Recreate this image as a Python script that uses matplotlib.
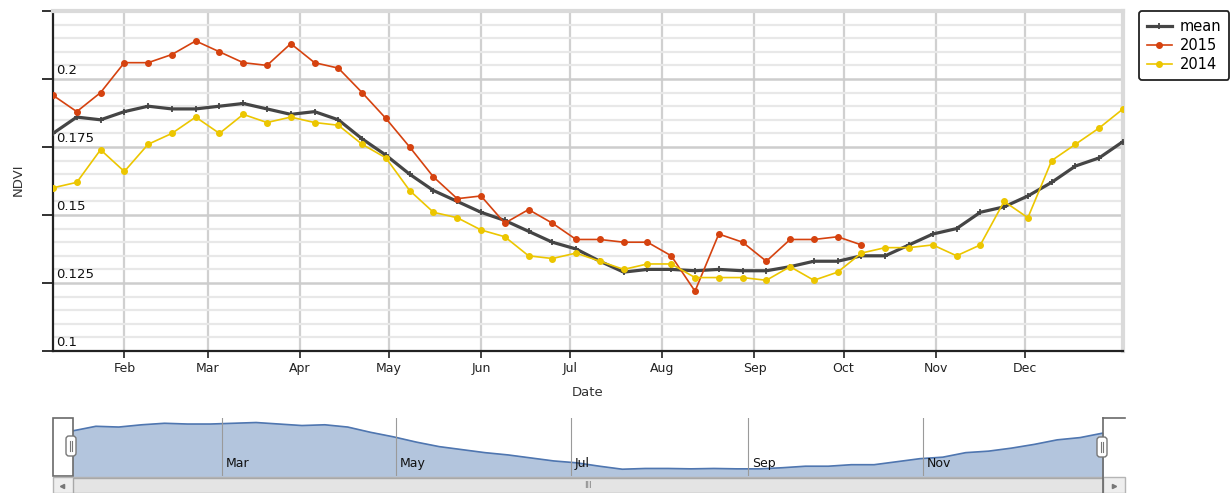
import numpy as np
import pandas as pd
import matplotlib
matplotlib.use("Agg")
import matplotlib.pyplot as plt
from matplotlib.patches import Rectangle, FancyBboxPatch

W, H = 1231, 493

# --- data: 8-day NDVI composites ---
dates = pd.date_range("2015-01-08", periods=46, freq="8D")

ndvi_mean = [0.180, 0.186, 0.185, 0.188, 0.190, 0.189, 0.189, 0.190, 0.191, 0.189,
             0.187, 0.188, 0.185, 0.178, 0.172, 0.165, 0.159, 0.155, 0.151, 0.148,
             0.144, 0.140, 0.1375, 0.133, 0.129, 0.130, 0.130, 0.1295, 0.130, 0.1295,
             0.1295, 0.131, 0.133, 0.133, 0.135, 0.135, 0.139, 0.143, 0.145, 0.151,
             0.153, 0.157, 0.162, 0.168, 0.171, 0.177]

ndvi_2015 = [0.194, 0.188, 0.195, 0.206, 0.206, 0.209, 0.214, 0.210, 0.206, 0.205,
             0.213, 0.206, 0.204, 0.195, 0.1855, 0.175, 0.164, 0.156, 0.157, 0.147,
             0.152, 0.147, 0.141, 0.141, 0.140, 0.140, 0.135, 0.122, 0.143, 0.140,
             0.133, 0.141, 0.141, 0.142, 0.139]

ndvi_2014 = [0.160, 0.162, 0.174, 0.166, 0.176, 0.180, 0.186, 0.180, 0.187, 0.184,
             0.186, 0.184, 0.183, 0.176, 0.171, 0.159, 0.151, 0.149, 0.1445, 0.142,
             0.135, 0.134, 0.136, 0.133, 0.130, 0.132, 0.132, 0.127, 0.127, 0.127,
             0.126, 0.131, 0.126, 0.129, 0.136, 0.138, 0.138, 0.139, 0.135, 0.139,
             0.155, 0.149, 0.170, 0.176, 0.182, 0.189]

month_ticks = pd.date_range("2015-02-01", "2015-12-01", freq="MS")
month_labels = ["Feb", "Mar", "Apr", "May", "Jun", "Jul", "Aug", "Sep", "Oct", "Nov", "Dec"]
overview_ticks = pd.to_datetime(["2015-03-01", "2015-05-01", "2015-07-01", "2015-09-01", "2015-11-01"])
overview_labels = ["Mar", "May", "Jul", "Sep", "Nov"]
y_ticks = [0.1, 0.125, 0.15, 0.175, 0.2, 0.225]
y_labels = ["0.1", "0.125", "0.15", "0.175", "0.2", ""]

MEAN_C = "#454545"
C2015 = "#d5420f"
C2014 = "#ecc600"


def fx(px):
    return px / W


def fy(py):
    return 1 - py / H


fig = plt.figure(figsize=(W / 100, H / 100), dpi=100)
fig.patch.set_facecolor("white")

# --- main plot ---
ax = fig.add_axes([fx(53), fy(351), fx(1123) - fx(53), fy(11) - fy(351)])
ax.plot(dates, ndvi_mean, color=MEAN_C, lw=2.3, marker="+", ms=5, mew=1.3,
        label="mean", zorder=3)
ax.plot(dates[:len(ndvi_2015)], ndvi_2015, color=C2015, lw=1.2, marker="o", ms=4,
        label="2015", zorder=4)
ax.plot(dates, ndvi_2014, color=C2014, lw=1.2, marker="o", ms=4,
        label="2014", zorder=5)

ax.set_xlim(dates[0], dates[-1])
ax.set_ylim(0.1, 0.225)

ax.set_xticks(month_ticks)
ax.set_xticklabels(month_labels, fontsize=9, color="#222")
ax.set_yticks(y_ticks)
ax.set_yticklabels([])
ax.set_yticks(np.arange(0.1, 0.2251, 0.005), minor=True)
ax.tick_params(axis="y", which="major", direction="out", length=8, width=1.3, color="#222")
ax.tick_params(axis="y", which="minor", length=0)
ax.tick_params(axis="x", direction="out", length=5, width=1.2, color="#222", pad=3)

ax.grid(axis="y", which="minor", color="#e8e8e8", lw=1.6, zorder=0)
ax.grid(axis="y", which="major", color="#cdcdcd", lw=1.8, zorder=0)
ax.grid(axis="x", which="major", color="#d0d0d0", lw=1.6, zorder=0)
ax.set_axisbelow(True)

for s in ["left", "bottom"]:
    ax.spines[s].set_color("#222")
    ax.spines[s].set_linewidth(1.6)
for s in ["top", "right"]:
    ax.spines[s].set_color("#dadada")
    ax.spines[s].set_linewidth(3)

# y labels sit inside the plot just above their gridline
for v, lab in zip(y_ticks, y_labels):
    if lab:
        ax.text(0.003, v + 0.0006, lab, transform=ax.get_yaxis_transform(),
                ha="left", va="bottom", fontsize=9.5, color="#111")

fig.text(fx(18), fy(180), "NDVI", rotation=90, ha="center", va="center",
         fontsize=9.5, color="#333")
fig.text(fx(588), fy(393), "Date", ha="center", va="center", fontsize=9.5, color="#333")

leg = ax.legend(loc="upper left", bbox_to_anchor=(fx(1139), fy(11)),
                bbox_transform=fig.transFigure, borderaxespad=0, fancybox=True,
                framealpha=1, edgecolor="#222", fontsize=10.5, handlelength=1.7,
                handletextpad=0.55, labelspacing=0.28, borderpad=0.55)
leg.get_frame().set_linewidth(1.3)

# --- range selector (overview) ---
ax2 = fig.add_axes([fx(73), fy(476), fx(1103) - fx(73), fy(418) - fy(476)])
ax2.set_xlim(dates[0], dates[-1])
ax2.set_ylim(0.12, 0.197)
ax2.fill_between(dates, ndvi_mean, 0.12, color="#b3c5dd", zorder=1)
ax2.plot(dates, ndvi_mean, color="#4f76b0", lw=1.2, zorder=2)
for d, lab in zip(overview_ticks, overview_labels):
    ax2.axvline(d, color="#9a9a9a", lw=0.8, zorder=3)
    ax2.text(d + pd.Timedelta(days=1.3), 0.22, lab, transform=ax2.get_xaxis_transform(),
             ha="left", va="center", fontsize=9, color="#111", zorder=4)
ax2.set_xticks([])
ax2.set_yticks([])
for s in ax2.spines.values():
    s.set_visible(False)

# --- overlay for selector frame, handles and scrollbar (pixel coords) ---
ov = fig.add_axes([0, 0, 1, 1])
ov.set_xlim(0, W)
ov.set_ylim(H, 0)
ov.axis("off")
ov.patch.set_alpha(0)

frame_c = "#6a6a6a"
ov.add_patch(Rectangle((53, 418), 20, 58, fill=False, ec=frame_c, lw=1.2))
ov.plot([1103, 1125], [418, 418], color=frame_c, lw=1.2)
ov.plot([1103, 1103], [418, 493], color=frame_c, lw=1.2)

for cx, cy in [(71, 446), (1102, 447)]:
    ov.add_patch(FancyBboxPatch((cx - 5, cy - 10), 10, 20,
                                boxstyle="round,pad=0,rounding_size=3",
                                fc="white", ec="#777", lw=1.0, zorder=5))
    ov.plot([cx - 1.3, cx - 1.3], [cy - 5, cy + 5], color="#777", lw=0.8, zorder=6)
    ov.plot([cx + 1.3, cx + 1.3], [cy - 5, cy + 5], color="#777", lw=0.8, zorder=6)

# scrollbar
ov.add_patch(Rectangle((53, 477), 1072, 16, fc="#eeeeee", ec="#b5b5b5", lw=1.0))
ov.add_patch(Rectangle((73, 478), 1030, 15, fc="#e4e4e4", ec="#a8a8a8", lw=1.0))
ov.plot([62], [486], marker="<", ms=3, color="#777")
ov.plot([1114], [486], marker=">", ms=3, color="#777")
ov.text(588, 486, "III", ha="center", va="center", fontsize=6, color="#777")

fig.savefig("out.png", dpi=100, facecolor="white")
